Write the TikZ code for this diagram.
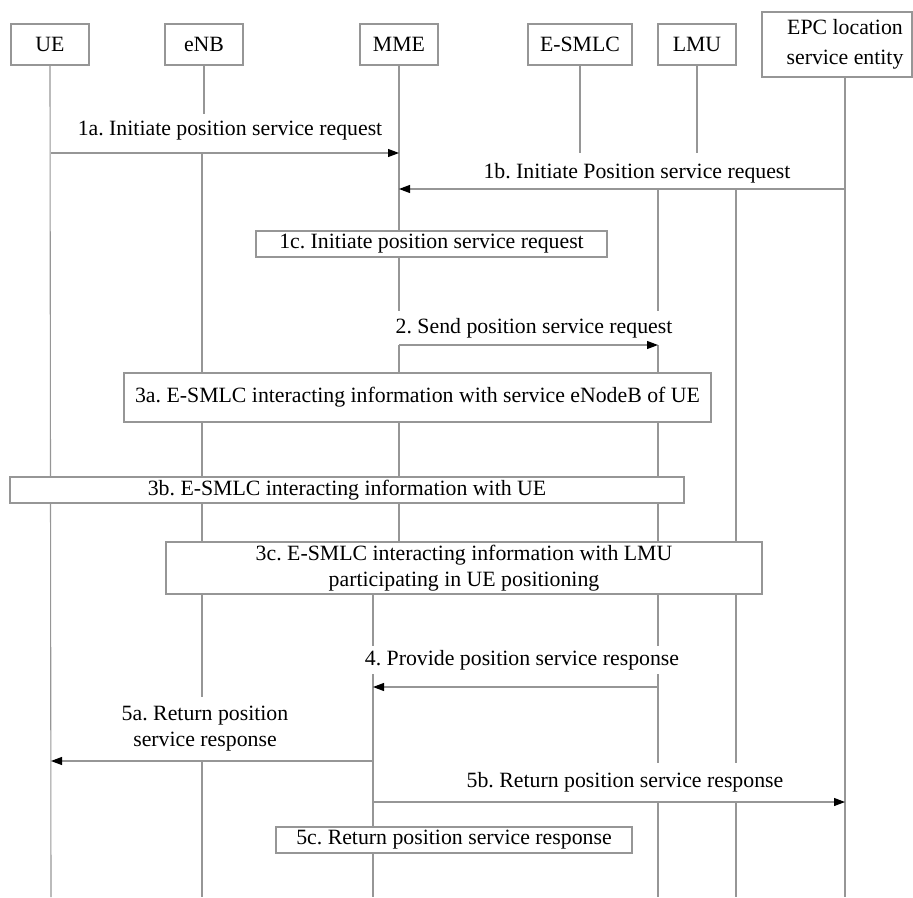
\documentclass[tikz,border=0pt]{standalone}
\usepackage{fontspec}
\setmainfont{Liberation Serif}
\usetikzlibrary{arrows.meta}
\definecolor{linegray}{RGB}{150,150,150}
\frenchspacing
\begin{document}
\begin{tikzpicture}[x=1pt,y=-1pt,
  every node/.style={font=\fontsize{21.8}{26}\selectfont},
  lifeline/.style={draw=linegray,line width=1.1pt},
  actor/.style={draw=linegray,line width=1.1pt,fill=white,minimum width=78pt,minimum height=41pt,inner sep=0pt},
  stepbox/.style={draw=linegray,line width=1.1pt,fill=white,inner sep=0pt,align=center},
  msglabel/.style={fill=white,inner xsep=1pt,inner ysep=4pt,anchor=base,align=center},
  msg/.style={draw=linegray,line width=1.1pt,-{Triangle[length=11pt,width=8pt,color=black]}}
]
\useasboundingbox (0,0) rectangle (913,897);

% participants
\node[actor] (ue)    at (50,44.5)  {UE};
\node[actor] (enb)   at (204,44.5) {eNB};
\node[actor] (mme)   at (399,44.5) {MME};
\node[actor,minimum width=104pt] (esmlc) at (580,44.5) {E-SMLC};
\node[actor] (lmu)   at (697,44.5) {LMU};
\node[actor,minimum width=150pt,minimum height=65pt] (epcbox) at (837,44.5) {};
\node[align=center,font=\fontsize{21.8}{30}\selectfont] (epc) at (845,44.5) {EPC location\\service entity};

% lifeline positions
\coordinate (Lue)   at (51,0);
\coordinate (Lenb)  at (202,0);
\coordinate (Lmme)  at (399,0);
\coordinate (Lmmeb) at (373,0);
\coordinate (La)    at (658,0);
\coordinate (Lb)    at (736,0);
\coordinate (Lepc)  at (845,0);

% lifelines
\draw[lifeline] (ue.south) -- (Lue |- 0,897);
\draw[lifeline] (enb.south) -- (enb |- 0,114);
\draw[lifeline] (Lenb |- 0,153) -- (Lenb |- 0,897);
\draw[lifeline] (mme.south) -- (Lmme |- 0,542);
\draw[lifeline] (Lmmeb |- 0,594) -- (Lmmeb |- 0,897);
\draw[lifeline] (esmlc.south) -- (esmlc |- 0,153);
\draw[lifeline] (lmu.south) -- (lmu |- 0,153);
\draw[lifeline] (La |- 0,189) -- (La |- 0,897);
\draw[lifeline] (Lb |- 0,189) -- (Lb |- 0,897);
\draw[lifeline] (epc |- epcbox.south) -- (Lepc |- 0,897);

% procedure boxes
\node[stepbox,minimum width=351pt,minimum height=26pt] (s1c) at (431.5,244) {1c. Initiate position service request};
\node[stepbox,minimum width=587pt,minimum height=49pt] (s3a) at (417.5,397.5) {3a. E-SMLC interacting information with service eNodeB of UE};
\node[stepbox,minimum width=674pt,minimum height=26pt] (s3b) at (347,490) {3b. E-SMLC interacting information with UE};
\node[stepbox,minimum width=596pt,minimum height=52pt] (s3c) at (464,568) {3c. E-SMLC interacting information with LMU\\participating in UE positioning};
\node[stepbox,minimum width=356pt,minimum height=26pt] (s5c) at (454,840) {5c. Return position service response};

% message labels
\node[msglabel] (l1a) at (230,135) {1a. Initiate position service request};
\node[msglabel] (l1b) at (637,178) {1b. Initiate Position service request};
\node[msglabel,inner ysep=7pt] (l2) at (534,333) {2. Send position service request};
\node[msglabel] (l4) at (522,665) {4. Provide position service response};
\node[msglabel,anchor=center,inner ysep=9pt] (l5a) at (205,729) {5a. Return position\\service response};
\node[msglabel,inner ysep=9pt] (l5b) at (625,787) {5b. Return position service response};

% messages
\draw[msg] (Lue |- 0,153) -- (Lmme |- 0,153);
\draw[msg] (Lepc |- 0,189) -- (Lmme |- 0,189);
\draw[msg] (Lmme |- 0,345) -- (La |- 0,345);
\draw[msg] (La |- 0,687) -- (Lmmeb |- 0,687);
\draw[msg] (Lmmeb |- 0,761) -- (Lue |- 0,761);
\draw[msg] (Lmmeb |- 0,802) -- (Lepc |- 0,802);
\end{tikzpicture}
\end{document}
